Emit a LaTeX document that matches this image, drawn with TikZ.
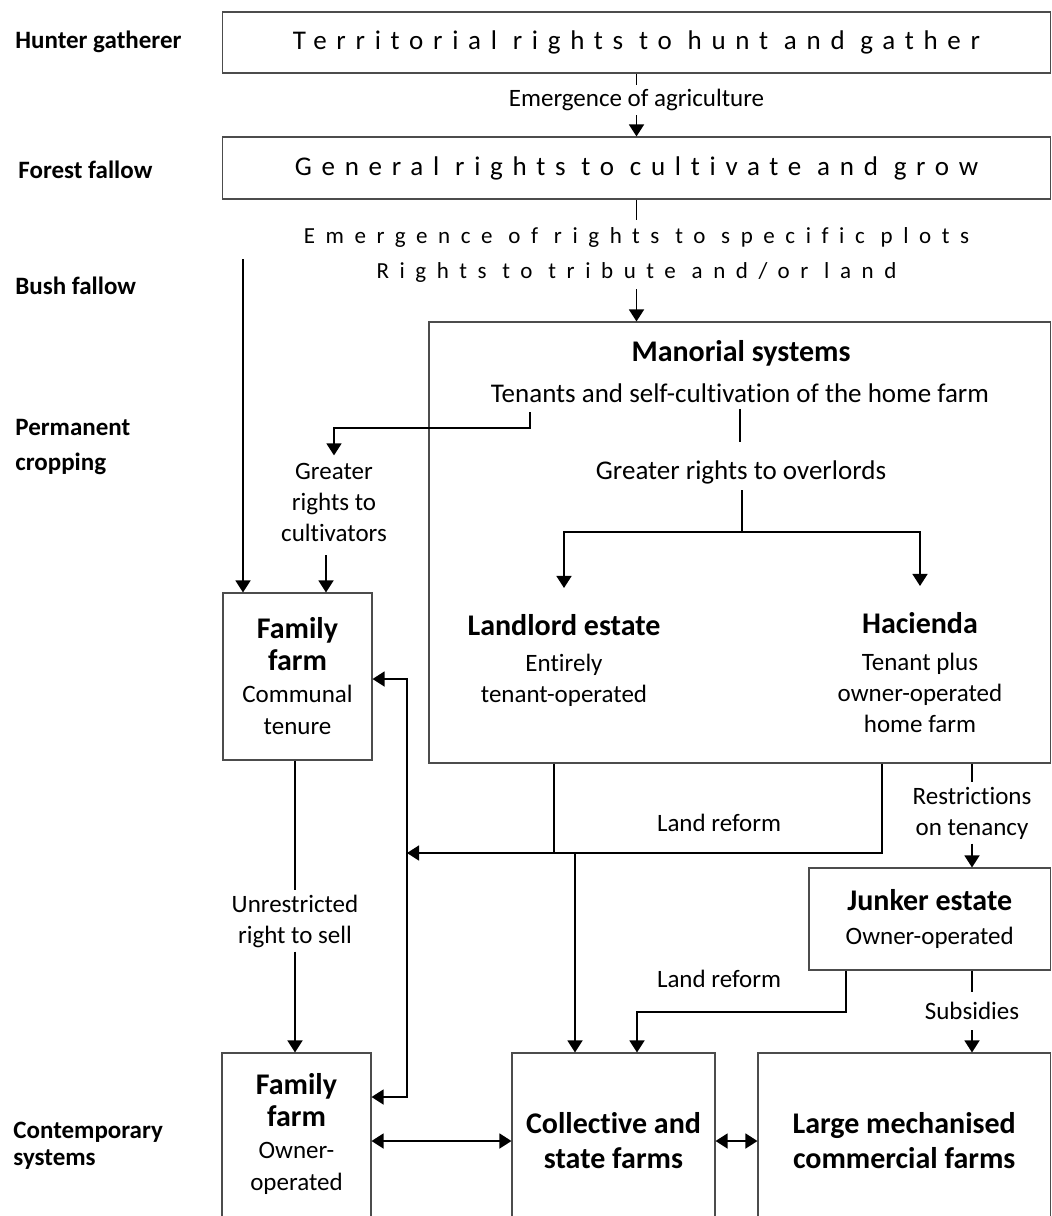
\documentclass[tikz,border=0pt]{standalone}
\usepackage{fontspec}
\setmainfont[Ligatures = NoCommon]{Carlito}
\newfontfamily\spacedfont[LetterSpace = 36, Ligatures = NoCommon]{Carlito}
\newfontfamily\widefont[LetterSpace = 46, Ligatures = NoCommon]{Carlito}
\newcommand{\headsize}{\fontsize{15}{18}\selectfont}
\usetikzlibrary{arrows.meta}

\begin{document}
\begin{tikzpicture}[x = 0.5pt, y = -0.5pt]
	\tikzstyle{stageStyle} = [anchor = west, inner sep = 0pt, align = left, font = \bfseries\fontsize{12.5}{17.5}\selectfont]
	\tikzstyle{boxStyle} = [rectangle, draw = black!70, line width = 0.55pt, inner sep = 0pt, align = center]
	\tikzstyle{wideStyle} = [inner sep = 3pt, font = \spacedfont\fontsize{13.5}{16}\selectfont]
	\tikzstyle{smallWideStyle} = [inner sep = 3.5pt, font = \widefont\fontsize{11.5}{14}\selectfont]
	\tikzstyle{headStyle} = [inner sep = 2pt, align = center, font = \bfseries\fontsize{15}{17.5}\selectfont]
	\tikzstyle{textStyle} = [inner sep = 2pt, align = center, font = \fontsize{12.5}{15.5}\selectfont]
	\tikzstyle{bigTextStyle} = [inner sep = 3pt, font = \fontsize{13.5}{16}\selectfont]
	\tikzstyle{lineStyle} = [line width = 0.75pt]
	\tikzstyle{arrowStyle} = [line width = 0.75pt, -{Triangle[width = 7.5pt, length = 6pt]}]
	\tikzstyle{twoArrowStyle} = [line width = 0.75pt, {Triangle[width = 7.5pt, length = 6pt]}-{Triangle[width = 7.5pt, length = 6pt]}]
	\useasboundingbox (0, 0) rectangle (1052, 1216);
	\node[stageStyle] (hunter) at (15, 42) {Hunter gatherer};
	\node[stageStyle] (forest) at (18, 170) {Forest fallow};
	\node[stageStyle] (bush) at (15, 286) {Bush fallow};
	\node[stageStyle] (permanent) at (15, 447) {Permanent\\cropping};
	\node[stageStyle, font = \bfseries\fontsize{12.5}{13.5}\selectfont] (contemporary) at (13, 1146) {Contemporary\\systems};
	\node[boxStyle, wideStyle, minimum width = 414pt, minimum height = 30.5pt] (terr) at (636.5, 42.5) {Territorial rights to hunt and gather};
	\node[textStyle] (agri) at (636.5, 100) {Emergence of agriculture};
	\node[boxStyle, wideStyle, minimum width = 414pt, minimum height = 31pt] (gen) at (636.5, 168) {General rights to cultivate and grow};
	\node[smallWideStyle] (plots) at (636.5, 237) {Emergence of rights to specific plots};
	\node[smallWideStyle] (tribute) at (636.5, 272) {Rights to tribute and/or land};
	\coordinate (bushTop) at (243, 259);
	\node[boxStyle, minimum width = 310.75pt, minimum height = 220.5pt] (manor) at (739.75, 542.5) {};
	\node[headStyle] (manorTitle) at (741, 353) {Manorial systems};
	\node[bigTextStyle] (tenants) at (740, 393) {Tenants and self-cultivation of the home farm};
	\node[bigTextStyle] (overlords) at (741, 472) {Greater rights to overlords};
	\coordinate (split) at (742, 532);
	\node[headStyle] (landlord) at (564, 625) {Landlord estate};
	\node[textStyle] (landlordText) at (564, 680) {Entirely\\tenant-operated};
	\node[headStyle] (hacienda) at (920, 623) {Hacienda};
	\node[textStyle] (haciendaText) at (920, 693) {Tenant plus\\owner-operated\\home farm};
	\coordinate (tenantsLeft) at (530, 412);
	\node[textStyle, inner ysep = 3.5pt] (cultiv) at (334, 502) {Greater\\rights to\\cultivators};
	\coordinate (cultivDown) at (326, 555);
	\node[boxStyle, minimum width = 74.5pt, minimum height = 83.5pt, font = \fontsize{12.5}{16}\selectfont] (famCommunal) at (297.5, 676.5) {\textbf{\headsize Family}\\\textbf{\headsize farm}\\Communal\\tenure};
	\node[textStyle] (unres) at (295, 921) {Unrestricted\\right to sell};
	\node[boxStyle, minimum width = 74.5pt, minimum height = 88pt] (famOwner) at (296.5, 1141) {};
	\node[textStyle, font = \fontsize{12.5}{16}\selectfont] (famOwnerText) at (296.5, 1134) {\textbf{\headsize Family}\\\textbf{\headsize farm}\\Owner-\\operated};
	\coordinate (linkTop) at (407, 679);
	\coordinate (linkBottom) at (407, 1097);
	\coordinate (reformLeft) at (554, 853);
	\coordinate (reformRight) at (882, 853);
	\coordinate (reformDown) at (575, 853);
	\node[textStyle] (reform) at (719, 823) {Land reform};
	\node[textStyle] (restr) at (972, 813) {Restrictions\\on tenancy};
	\node[boxStyle, minimum width = 120.75pt, minimum height = 51pt, font = \fontsize{12.5}{17}\selectfont] (junker) at (929.75, 919) {\textbf{\headsize Junker estate}\\Owner-operated};
	\coordinate (junkerDrop) at (846, 1012);
	\coordinate (junkerTurn) at (637, 1012);
	\node[textStyle] (reformTwo) at (719, 979) {Land reform};
	\node[textStyle, inner ysep = 5pt] (subs) at (972, 1011) {Subsidies};
	\node[boxStyle, headStyle, minimum width = 101.5pt, minimum height = 88pt] (collective) at (613.5, 1141) {Collective and\\state farms};
	\node[boxStyle, headStyle, minimum width = 146.25pt, minimum height = 88pt] (large) at (904.25, 1141) {Large mechanised\\commercial farms};
	\draw[lineStyle] (terr) -- (agri);
	\draw[arrowStyle] (agri) -- (gen);
	\draw[lineStyle] (gen) -- (plots);
	\draw[arrowStyle] (tribute) -- (tribute |- manor.north);
	\draw[arrowStyle] (bushTop) -- (bushTop |- famCommunal.north);
	\draw[arrowStyle] (tenantsLeft) -- ++(0, 16) -| (cultiv.north);
	\draw[arrowStyle] (cultivDown) -- (cultivDown |- famCommunal.north);
	\draw[lineStyle, shorten >= 6pt] (tenants.south) -- (tenants.south |- overlords.north);
	\draw[lineStyle] (overlords.south -| split) -- (split);
	\draw[arrowStyle] (split) -| ([yshift = 11pt]landlord.north);
	\draw[arrowStyle] (split) -| ([yshift = 11pt]hacienda.north);
	\draw[lineStyle] (reformLeft |- manor.south) -- (reformLeft);
	\draw[arrowStyle] (reformRight |- manor.south) -- (reformRight) -- (reformRight -| linkTop);
	\draw[arrowStyle] (reformDown) -- (reformDown |- collective.north);
	\draw[twoArrowStyle] (linkTop -| famCommunal.east) -- (linkTop) -- (linkBottom) -- (linkBottom -| famOwner.east);
	\draw[lineStyle] (restr.north |- manor.south) -- (restr.north);
	\draw[arrowStyle] (restr.south) -- (restr.south |- junker.north);
	\draw[arrowStyle] (junkerDrop |- junker.south) -- (junkerDrop) -- (junkerTurn) -- (junkerTurn |- collective.north);
	\draw[lineStyle] (subs.north |- junker.south) -- (subs.north);
	\draw[arrowStyle] (subs.south) -- (subs.south |- large.north);
	\draw[lineStyle] (unres.north |- famCommunal.south) -- (unres.north);
	\draw[arrowStyle] (unres.south) -- (unres.south |- famOwner.north);
	\draw[twoArrowStyle] (famOwner.east) -- (collective.west);
	\draw[twoArrowStyle] (collective.east) -- (large.west);
\end{tikzpicture}
\end{document}
